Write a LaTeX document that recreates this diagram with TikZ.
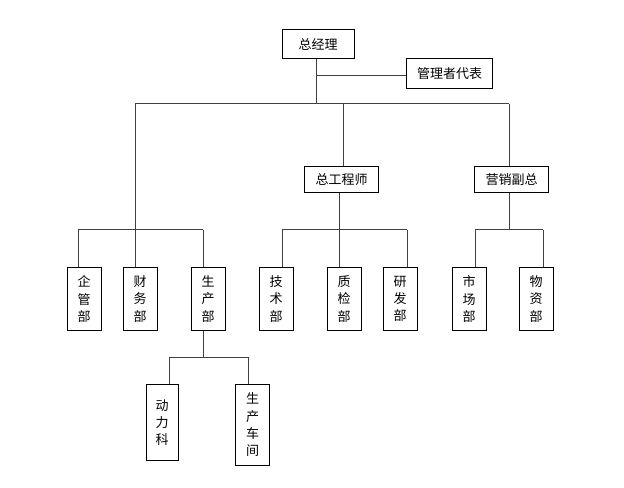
\documentclass[tikz,border=0pt]{standalone}
\usepackage{tikz}
\usepackage{fontspec}
\usetikzlibrary{shapes,positioning}
\newfontfamily\cjk{Noto Sans CJK SC}
\definecolor{edge}{RGB}{64, 64, 64}
\tikzstyle{link} = [
    line width=0.75pt,
    draw=edge
]
\tikzstyle{hbox} = [
    rectangle,
    draw=black,
    line width=0.75pt,
    inner sep=0pt,
    minimum width=56pt,
    minimum height=19.5pt,
    text centered,
    font=\cjk\fontsize{9.75}{13}\selectfont
]
\tikzstyle{vbox} = [
    hbox,
    anchor=north,
    align=center,
    minimum width=25.5pt,
    minimum height=47.25pt
]

\begin{document}
\begin{tikzpicture}[x=0.75pt,y=-0.75pt]
    \useasboundingbox (0,0) rectangle (624,488);
    % top level
    \node[hbox, minimum width=54pt, minimum height=21.75pt] (gm) at (318,44.5) {总经理};
    \node[hbox, minimum width=65pt, minimum height=23pt] (rep) at (449.5,73.5) {管理者代表};
    \node[hbox] (ce) at (341.5,180) {总工程师};
    \node[hbox] (vs) at (511.5,180) {营销副总};
    % departments
    \node[vbox] (qg) at (84,267) {企\\管\\部};
    \node[vbox] (cw) at (140,267) {财\\务\\部};
    \node[vbox] (sc) at (208,267) {生\\产\\部};
    \node[vbox] (js) at (276,267) {技\\术\\部};
    \node[vbox] (zj) at (344,267) {质\\检\\部};
    \node[vbox] (yf) at (400,267) {研\\发\\部};
    \node[vbox] (sh) at (469,267) {市\\场\\部};
    \node[vbox] (wz) at (536,267) {物\\资\\部};
    \node[vbox, minimum width=24pt, minimum height=57pt] (dl) at (162,384) {动\\力\\科};
    \node[vbox, minimum height=60.75pt] (cj) at (252.5,384) {生\\产\\车\\间};
    % buses
    \coordinate (top) at (316,104);
    \coordinate (left) at (135,230);
    \draw[link] (gm.south -| top) -- (top);
    \draw[link] (top |- 0,76) -- (rep.west |- 0,76);
    \draw[link] (135,104) -- (509,104);
    \draw[link] (135,104) -- (left);
    \draw[link] (343,104) -- (ce.north -| 343,0);
    \draw[link] (509,104) -- (vs.north -| 509,0);
    \draw[link] (78,230) -- (203,230);
    \draw[link] (ce.south -| 339,0) -- (339,230);
    \draw[link] (282,230) -- (407,230);
    \draw[link] (vs.south -| 509,0) -- (509,230);
    \draw[link] (475,230) -- (543,230);
    \draw[link] (sc.south -| 203,0) -- (203,357);
    \draw[link] (169,357) -- (248,357);
    % drops
    \foreach \n/\x in {qg/78,cw/135,sc/203,js/282,zj/339,yf/407,sh/475,wz/543}
        \draw[link] (\x,230) -- (\n.north -| \x,0);
    \foreach \n/\x in {dl/169,cj/248}
        \draw[link] (\x,357) -- (\n.north -| \x,0);
\end{tikzpicture}
\end{document}
